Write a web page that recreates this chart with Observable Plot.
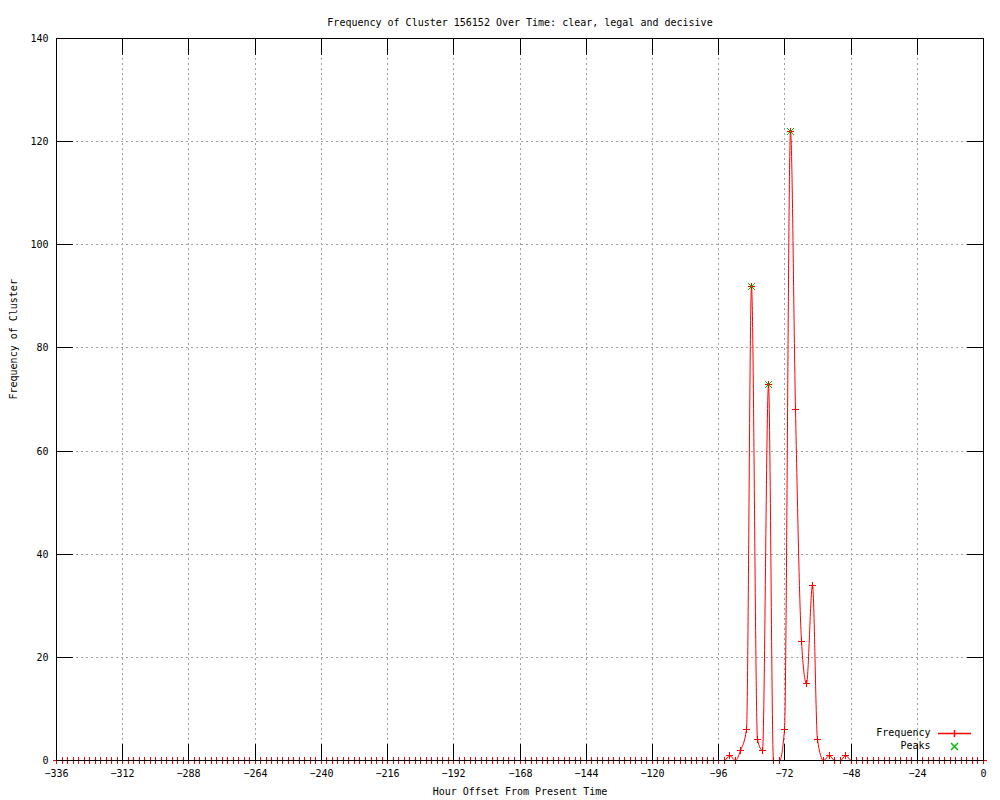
<!DOCTYPE html>
<html><head><meta charset="utf-8">
<script src="https://cdn.jsdelivr.net/npm/d3@7"></script>
<script src="https://cdn.jsdelivr.net/npm/@observablehq/plot@0.6"></script>
<style>body{margin:0;background:#fff}</style>
</head><body><div id="chart"></div>
<script>
const titleText = "Frequency of Cluster 156152 Over Time: clear, legal and decisive";
const xLabel = "Hour Offset From Present Time";
const yLabel = "Frequency of Cluster";
const xTicks = [-336, -312, -288, -264, -240, -216, -192, -168, -144, -120, -96, -72, -48, -24, 0];
const yTicks = [0, 20, 40, 60, 80, 100, 120, 140];
// hourly offsets, sampled every 2 hours from -336 to 0
const hours = d3.range(-336, 1, 2);
const frequency = [
  0,0,0,0,0,0,0,0,0,0, 0,0,0,0,0,0,0,0,0,0,
  0,0,0,0,0,0,0,0,0,0, 0,0,0,0,0,0,0,0,0,0,
  0,0,0,0,0,0,0,0,0,0, 0,0,0,0,0,0,0,0,0,0,
  0,0,0,0,0,0,0,0,0,0, 0,0,0,0,0,0,0,0,0,0,
  0,0,0,0,0,0,0,0,0,0, 0,0,0,0,0,0,0,0,0,0,
  0,0,0,0,0,0,0,0,0,0, 0,0,0,0,0,0,0,0,0,0,
  0,0,
  1,0,2,6,92,4,2,73,0,0,6,122,68,23,15,34,4,0,1,0,0,1,
  0,0,0,0,0,0,0,0,0,0, 0,0,0,0,0,0,0,0,0,0, 0,0,0,0,0
];
const peakHours = [-84, -78, -70];
const peakValues = [92, 73, 122];

const series = hours.map((h, i) => ({hour: h, value: frequency[i]}));
const peaks = peakHours.map((h, i) => ({hour: h, value: peakValues[i]}));

const plusSym = {draw(c) { const r = 3.5; c.moveTo(-r, 0); c.lineTo(r, 0); c.moveTo(0, -r); c.lineTo(0, r); }};
const timesSym = {draw(c) { const r = 3.5; c.moveTo(-r, -r); c.lineTo(r, r); c.moveTo(-r, r); c.lineTo(r, -r); }};
const legendLineSym = {draw(c) { const h = 16.5, r = 3.5; c.moveTo(-h, 0); c.lineTo(h, 0); c.moveTo(0, -r); c.lineTo(0, r); }};
const tickShape = {draw(c, l) { c.moveTo(0, 0); c.lineTo(0, -l); }};

const RED = "#ff0000", GREEN = "#00c000", GRID = "#a0a0a0";

const chart = Plot.plot({
  width: 1000,
  height: 800,
  marginLeft: 56,
  marginRight: 17,
  marginTop: 38,
  marginBottom: 40,
  style: {fontFamily: "'DejaVu Sans Mono', monospace", fontSize: "10px", background: "white", color: "black"},
  x: {domain: [-336, 0], axis: null, round: true},
  y: {domain: [0, 140], axis: null, round: true},
  marks: [
    Plot.gridX(xTicks, {stroke: GRID, strokeOpacity: 1, strokeDasharray: "2,3"}),
    Plot.gridY(yTicks, {stroke: GRID, strokeOpacity: 1, strokeDasharray: "2,3"}),
    Plot.line(series, {x: "hour", y: "value", stroke: RED, strokeWidth: 1, curve: "monotone-x", clip: true}),
    Plot.dot(series, {x: "hour", y: "value", symbol: plusSym, stroke: RED, fill: "none", strokeWidth: 1}),
    Plot.dot(peaks, {x: "hour", y: "value", symbol: timesSym, stroke: GREEN, fill: "none", strokeWidth: 1}),
    // inward ticks on all four sides
    Plot.vector(xTicks, {x: d => d, frameAnchor: "bottom", rotate: 0, length: 16, anchor: "start", shape: tickShape, stroke: "black", strokeWidth: 1}),
    Plot.vector(xTicks, {x: d => d, frameAnchor: "top", rotate: 180, length: 16, anchor: "start", shape: tickShape, stroke: "black", strokeWidth: 1}),
    Plot.vector(yTicks, {y: d => d, frameAnchor: "left", rotate: 90, length: 16, anchor: "start", shape: tickShape, stroke: "black", strokeWidth: 1}),
    Plot.vector(yTicks, {y: d => d, frameAnchor: "right", rotate: -90, length: 16, anchor: "start", shape: tickShape, stroke: "black", strokeWidth: 1}),
    Plot.frame({stroke: "black", strokeWidth: 1}),
    Plot.axisX(xTicks, {tickSize: 0, tickPadding: 9, label: null, tickFormat: d => d < 0 ? "\u2212" + (-d) : String(d)}),
    Plot.axisY(yTicks, {tickSize: 0, tickPadding: 8, label: null, tickFormat: d => String(d)}),
    Plot.text([titleText], {frameAnchor: "top", dy: -20, fill: "black"}),
    Plot.text([xLabel], {frameAnchor: "bottom", dy: 34, fill: "black"}),
    Plot.text([yLabel], {frameAnchor: "left", dx: -43, rotate: -90, fill: "black"}),
    // legend
    Plot.text(["Frequency"], {frameAnchor: "bottom-right", dx: -53, dy: -25, textAnchor: "end", fill: "black"}),
    Plot.dot([0], {frameAnchor: "bottom-right", dx: -29, dy: -27, symbol: legendLineSym, stroke: RED, fill: "none"}),
    Plot.text(["Peaks"], {frameAnchor: "bottom-right", dx: -53, dy: -12, textAnchor: "end", fill: "black"}),
    Plot.dot([0], {frameAnchor: "bottom-right", dx: -29, dy: -14, symbol: timesSym, stroke: GREEN, fill: "none"})
  ]
});
document.getElementById("chart").appendChild(chart);
</script>
</body></html>
